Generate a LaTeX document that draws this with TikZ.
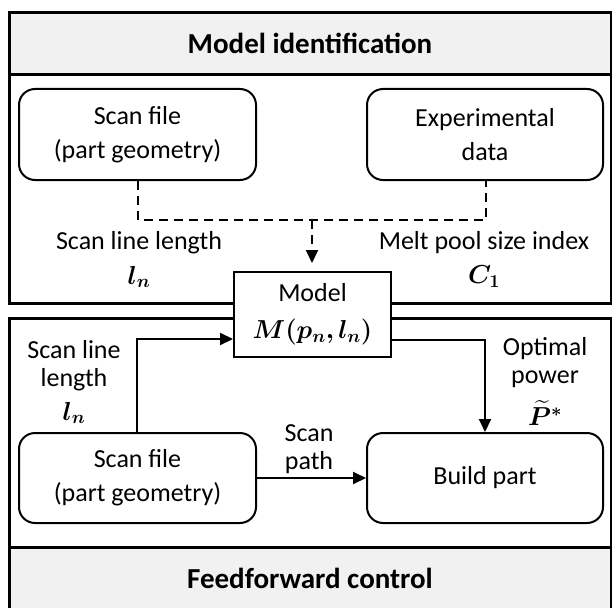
\RequirePackage{fix-cm}
\documentclass[tikz,border=0pt]{standalone}
\usepackage{amsmath}
\usepackage{bm}
\usepackage{fontspec}
\setmainfont{Carlito}
\usetikzlibrary{arrows.meta,calc}
\definecolor{bandgray}{HTML}{F1F1F1}
\tikzset{
  panel/.style={draw=black,line width=3pt},
  band/.style={fill=bandgray},
  rbox/.style={draw=black,line width=2pt,rounded corners=16pt,align=center,
    font=\fontsize{26}{34}\selectfont,inner sep=0pt},
  mbox/.style={draw=black,line width=2pt,fill=white,align=center,
    font=\fontsize{26}{34}\selectfont,inner sep=0pt},
  lbl/.style={font=\fontsize{26}{34}\selectfont,inner sep=0pt,align=center},
  head/.style={font=\fontsize{29}{34}\selectfont\bfseries,inner sep=0pt},
  conn/.style={line width=2pt,-{Triangle[length=13pt,width=12pt]}},
  dconn/.style={line width=2pt,dash pattern=on 9pt off 6pt},
}
\begin{document}
\begin{tikzpicture}[x=1pt,y=-1pt]
\useasboundingbox (0,0) rectangle (612,607);
% top panel
\fill[band] (9,13) rectangle (611,75);
\draw[panel] (9,13) rectangle (611,303);
\draw[panel] (9,75) -- (611,75);
\node[head] (h1) at (310,43) {Model identification};
% bottom panel
\fill[band] (9,547) rectangle (611,620);
\draw[panel] (9,620) -- (9,318) -- (611,318) -- (611,620);
\draw[panel] (9,547) -- (611,547);
\node[head] (h2) at (310,578) {Feedforward control};
% top boxes
\node[rbox,minimum width=237pt,minimum height=91pt] (sf1) at (137.5,134.5) {Scan file\\(part geometry)};
\node[rbox,minimum width=236pt,minimum height=91pt] (exp) at (485,134.5) {Experimental\\data};
% model
\node[mbox,minimum width=157pt,minimum height=85pt] (model) at (312.5,314.5) {Model\\[3pt]$\bm{M(p_n,l_n)}$};
% bottom boxes
\node[rbox,minimum width=237pt,minimum height=90pt] (sf2) at (137.5,478) {Scan file\\(part geometry)};
\node[rbox,minimum width=236pt,minimum height=90pt] (bp) at (485,478) {Build part};
% dashed merge
\coordinate (dl) at (138,220);
\coordinate (dr) at (486,220);
\coordinate (dm) at (312,220);
\coordinate (dt) at (312,263);
\draw[dconn] (sf1.south -| dl) -- (dl) -- (dr) -- (exp.south -| dr);
\draw[dconn,-{Triangle[length=13pt,width=12pt]}] (dm) -- (dt);
\node[lbl] (t1) at (139,243) {Scan line length};
\node[lbl] (t1m) at (139,277) {$\bm{l_n}$};
\node[lbl] (t2) at (484,243) {Melt pool size index};
\node[lbl] (t2m) at (484,277) {$\bm{C_1}$};
% solid arrows
\coordinate (al) at (137,339);
\coordinate (ar) at (485,340);
\draw[conn] (sf2.north -| al) -- (al) -- (model.west |- al);
\draw[conn] (model.east |- ar) -- (ar) -- (bp.north);
\draw[conn] (sf2.east) -- (bp.west);
\node[lbl] (s1) at (74,350) {Scan line};
\node[lbl] (s2) at (74,380) {length};
\node[lbl] (s3) at (74,413) {$\bm{l_n}$};
\node[lbl] (o1) at (545,349) {Optimal};
\node[lbl] (o2) at (545,379) {power};
\node[lbl] (o3) at (545,413) {$\bm{\widetilde{P}^{*}}$};
\node[lbl] (p1) at (309,433) {Scan};
\node[lbl] (p2) at (309,463) {path};
\end{tikzpicture}
\end{document}
